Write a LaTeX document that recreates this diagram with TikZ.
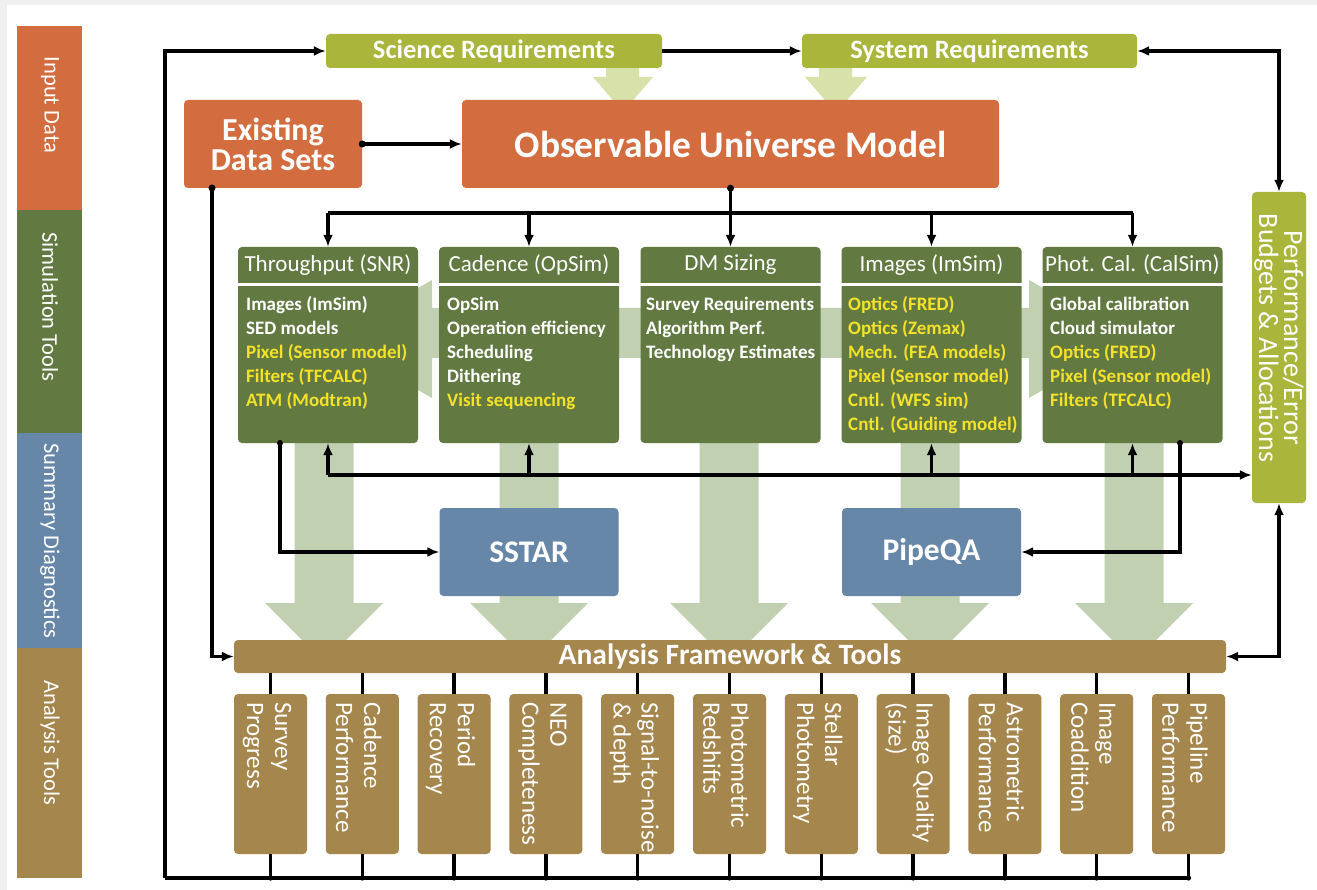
\documentclass[tikz,border=0pt]{standalone}
\usepackage{fontspec}
\setmainfont{Carlito}
\usetikzlibrary{arrows.meta}
\definecolor{cOrange}{HTML}{D36C3F}
\definecolor{cGreen}{HTML}{627A41}
\definecolor{cBlue}{HTML}{6687A7}
\definecolor{cBrown}{HTML}{A5864C}
\definecolor{cReq}{HTML}{A9B63B}
\definecolor{cFat}{HTML}{C2D0B2}
\definecolor{cReqFat}{HTML}{D9E1AA}
\definecolor{cYellow}{HTML}{F4E22A}
\newcommand\myfs[2]{\fontsize{#1}{#2}\selectfont}
\begin{document}
\begin{tikzpicture}[x=1pt,y=-1pt,
  box/.style={rounded corners=4pt, inner sep=0pt, text=white, align=center},
  req/.style={box, fill=cReq, font=\myfs{26.5}{28}\bfseries},
  org/.style={box, fill=cOrange},
  gbox/.style={box, fill=cGreen, minimum width=180pt, minimum height=196pt},
  ghead/.style={inner sep=0pt, text=white, font=\myfs{23}{26}},
  gbody/.style={inner sep=0pt, text=white, align=left, anchor=north west, font=\myfs{19}{24}\bfseries},
  blu/.style={box, fill=cBlue, minimum width=179pt, minimum height=88pt, font=\myfs{31.5}{34}\bfseries},
  brn/.style={box, fill=cBrown},
  tool/.style={box, fill=cBrown, minimum width=73pt, minimum height=160pt},
  tooltext/.style={inner sep=0pt, text=white, rotate=-90, anchor=west, align=left, font=\myfs{25}{28}},
  side/.style={inner sep=0pt, text=white, rotate=-90, font=\myfs{22.5}{26}},
  fat/.style={fill=cFat},
  reqfat/.style={fill=cReqFat},
  line/.style={line width=3.3pt},
  conn/.style={line width=3.3pt, -{Latex[length=12pt,width=10pt]}},
  both/.style={line width=3.3pt, {Latex[length=12pt,width=10pt]}-{Latex[length=12pt,width=10pt]}}
]
\useasboundingbox (0,0) rectangle (1317,890);
\fill[gray!12] (0,0) rectangle (1317,890);
\fill[white] (7,5) rectangle (1317,890);

% side bar
\fill[cOrange] (17,26) rectangle (82,210);
\fill[cGreen] (17,210) rectangle (82,433);
\fill[cBlue] (17,433) rectangle (82,648);
\fill[cBrown] (17,648) rectangle (82,878);
\node[side] (s1) at (50,105) {Input Data};
\node[side] (s2) at (50,307) {Simulation Tools};
\node[side] (s3) at (50,541) {Summary Diagnostics};
\node[side] (s4) at (50,743) {Analysis Tools};

% fat arrows from requirements
\fill[reqfat] (606,60) -- (639,60) -- (639,77) -- (653,77) -- (623,112) -- (593,77) -- (606,77) -- cycle;
\fill[reqfat] (819,60) -- (852,60) -- (852,77) -- (867,77) -- (836,113) -- (805,77) -- (819,77) -- cycle;

% horizontal fat arrow
\fill[fat] (329,339) -- (432,280) -- (432,308) -- (1029,308) -- (1029,280) -- (1132,339)
  -- (1029,398) -- (1029,358) -- (432,358) -- (432,398) -- cycle;

% vertical fat arrows
\foreach \c in {324,529,729,930,1134}{
  \fill[fat] ({\c-29.5},430) -- ({\c+29.5},430) -- ({\c+29.5},603) -- ({\c+59},603)
    -- (\c,662) -- ({\c-59},603) -- ({\c-29.5},603) -- cycle;
}

% top nodes
\node[req, minimum width=336pt, minimum height=34pt] (sci) at (494,51) {Science Requirements};
\node[req, minimum width=335pt, minimum height=34pt] (sys) at (969.5,51) {System Requirements};
\node[org, minimum width=178pt, minimum height=88pt, font=\myfs{32}{30}\bfseries] (eds) at (273,144) {Existing\\Data Sets};
\node[org, minimum width=537pt, minimum height=88pt, font=\myfs{37.5}{40}\bfseries] (oum) at (730.5,144) {Observable Universe Model};
\node[box, fill=cReq, minimum width=54pt, minimum height=311pt] (perf) at (1279,347.5) {};
\node[inner sep=0pt, text=white, rotate=-90, align=center, font=\myfs{28}{25}] (perft) at (1279,338) {Performance/Error\\Budgets \& Allocations};

% green simulation boxes
\coordinate (sep) at (0,284.5);
\node[gbox] (g1) at (328,345) {};
\node[gbox] (g2) at (529,345) {};
\node[gbox] (g3) at (730.5,345) {};
\node[gbox] (g4) at (931.5,345) {};
\node[gbox] (g5) at (1132.5,345) {};
\foreach \g in {g1,g2,g3,g4,g5}{
  \draw[white, line width=2.6pt] (\g.west |- sep) -- (\g.east |- sep);
}
\node[ghead] (h1) at (328,265) {Throughput (SNR)};
\node[ghead] (h2) at (529,265) {Cadence (OpSim)};
\node[ghead] (h3) at (730.5,265) {DM Sizing};
\node[ghead] (h4) at (931.5,265) {Images (ImSim)};
\node[ghead] (h5) at (1132.5,265) {Phot. Cal. (CalSim)};
\node[gbody] (b1) at (246,296.5) {Images (ImSim)\\SED models\\\textcolor{cYellow}{Pixel (Sensor model)}\\\textcolor{cYellow}{Filters (TFCALC)}\\\textcolor{cYellow}{ATM (Modtran)}};
\node[gbody] (b2) at (447,296.5) {OpSim\\Operation efficiency\\Scheduling\\Dithering\\\textcolor{cYellow}{Visit sequencing}};
\node[gbody] (b3) at (646,296.5) {Survey Requirements\\Algorithm Perf.\\Technology Estimates};
\node[gbody] (b4) at (848,296.5) {\textcolor{cYellow}{Optics (FRED)}\\\textcolor{cYellow}{Optics (Zemax)}\\\textcolor{cYellow}{Mech. (FEA models)}\\\textcolor{cYellow}{Pixel (Sensor model)}\\\textcolor{cYellow}{Cntl. (WFS sim)}\\\textcolor{cYellow}{Cntl. (Guiding model)}};
\node[gbody] (b5) at (1050,296.5) {Global calibration\\Cloud simulator\\\textcolor{cYellow}{Optics (FRED)}\\\textcolor{cYellow}{Pixel (Sensor model)}\\\textcolor{cYellow}{Filters (TFCALC)}};

% summary diagnostics
\node[blu] (sstar) at (529,552) {SSTAR};
\node[blu] (pipeqa) at (931.5,552) {PipeQA};

% analysis framework
\node[brn, minimum width=992pt, minimum height=33pt, font=\myfs{29.5}{30}\bfseries] (afw) at (730,656.5) {Analysis Framework \& Tools};

% analysis tools
\foreach \txt [count=\n from 0] in {{Survey\\Progress},{Cadence\\Performance},{Period\\Recovery},{NEO\\Completeness},{Signal-to-noise\\\& depth},{Photometric\\Redshifts},{Stellar\\Photometry},{Image Quality\\(size)},{Astrometric\\Performance},{Image\\Coaddition},{Pipeline\\Performance}}{
  \node[tool] (t\n) at ({270.5+91.8*\n},774) {};
  \node[tooltext] (tt\n) at ({267+91.8*\n},702) {\txt};
}

% connectors
\coordinate (bl) at (165,878);
\coordinate (tl) at (165,51);
\draw[line] (t10.south) |- (bl);
\draw[conn] (bl) -- (tl) -- (sci.west);
\foreach \n in {0,...,10}{
  \draw[line] (t\n.north |- afw.south) -- (t\n.north);
  \draw[line] (t\n.south) -- (t\n.south |- bl);
  \fill (t\n.south |- bl) circle (2.6pt);
}
\draw[conn] (sci.east) -- (sys.west);
\draw[both] (sys.east) -| (perf.north);
\draw[conn] (eds.east) -- (oum.west);
\fill (eds.east) circle (3.5pt);

\coordinate (edsb) at (212,188);
\fill (edsb) circle (3.5pt);
\draw[conn] (edsb) |- (afw.west);

\coordinate (tb) at (730.5,213);
\fill (oum.south) circle (3.5pt);
\draw[line] (oum.south) -- (tb);
\draw[line] (g1.north |- tb) -- (g5.north |- tb);
\foreach \g in {g1,g2,g3,g4,g5}{
  \draw[conn] (\g.north |- tb) -- (\g.north);
}

\coordinate (mb) at (328,475);
\draw[conn] (mb) -- (perf.west |- mb);
\foreach \g in {g1,g2,g4,g5}{
  \draw[conn] (\g.south |- mb) -- (\g.south);
}

\coordinate (g1d) at (280,443);
\fill (g1d) circle (3pt);
\draw[conn] (g1d) |- (sstar.west);
\coordinate (g5d) at (1180,443);
\fill (g5d) circle (3pt);
\draw[conn] (g5d) |- (pipeqa.east);

\draw[both] (perf.south) |- (afw.east);
\end{tikzpicture}
\end{document}
